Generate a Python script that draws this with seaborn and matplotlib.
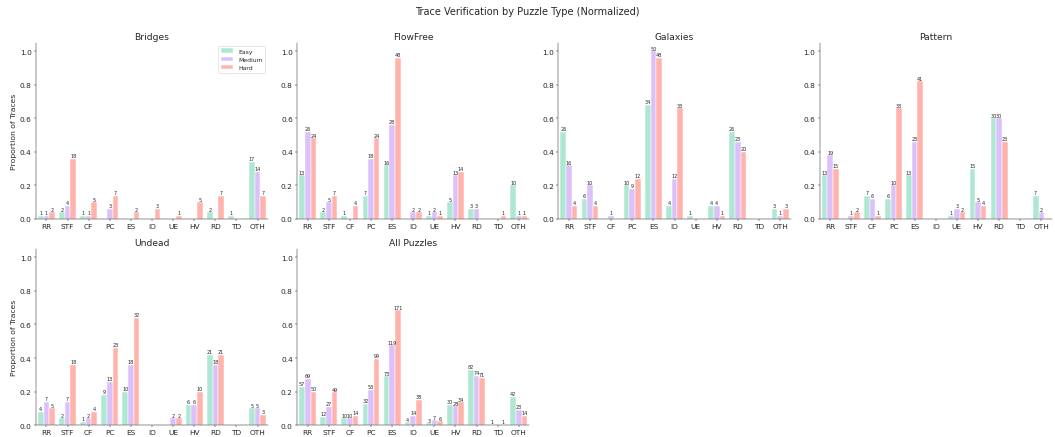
import numpy as np
import matplotlib
matplotlib.use("Agg")
import matplotlib.pyplot as plt
import seaborn as sns
import pandas as pd

# categorie di errore (asse x)
categories = ["RR", "STF", "CF", "PC", "ES", "IO", "UE", "HV", "RD", "TD", "OTH"]
difficulties = ["Easy", "Medium", "Hard"]
colors = ["#aee8d3", "#dcc0f9", "#ffb3ac"]

# conteggi per puzzle e difficolta' (50 tracce per livello)
bridges_easy = [1, 2, 1, 0, 0, 0, 0, 0, 2, 1, 17]
bridges_medium = [1, 4, 1, 3, 0, 0, 0, 0, 0, 0, 14]
bridges_hard = [2, 18, 5, 7, 2, 3, 1, 5, 7, 0, 7]

flowfree_easy = [13, 2, 1, 7, 16, 0, 1, 5, 3, 0, 10]
flowfree_medium = [26, 5, 0, 18, 28, 2, 2, 13, 3, 0, 1]
flowfree_hard = [24, 7, 4, 24, 48, 2, 1, 14, 0, 1, 1]

galaxies_easy = [26, 6, 0, 10, 34, 4, 1, 4, 26, 0, 3]
galaxies_medium = [16, 10, 1, 9, 50, 12, 0, 4, 23, 0, 1]
galaxies_hard = [4, 4, 0, 12, 48, 33, 0, 1, 20, 0, 3]

pattern_easy = [13, 0, 7, 6, 13, 0, 1, 15, 30, 0, 7]
pattern_medium = [19, 1, 6, 10, 23, 0, 3, 5, 30, 0, 2]
pattern_hard = [15, 2, 1, 33, 41, 0, 2, 4, 23, 0, 0]

undead_easy = [4, 2, 1, 9, 10, 0, 0, 6, 21, 0, 5]
undead_medium = [7, 7, 2, 13, 18, 0, 2, 6, 18, 0, 5]
undead_hard = [5, 18, 4, 23, 32, 0, 2, 10, 21, 0, 3]

all_easy = [57, 12, 10, 32, 73, 4, 3, 30, 82, 1, 42]
all_medium = [69, 27, 10, 53, 119, 14, 7, 28, 74, 0, 23]
all_hard = [50, 49, 14, 99, 171, 38, 6, 34, 71, 1, 14]

puzzles = ["Bridges", "FlowFree", "Galaxies", "Pattern", "Undead", "All Puzzles"]
totals = [50, 50, 50, 50, 50, 250]
counts = [
    (bridges_easy, bridges_medium, bridges_hard),
    (flowfree_easy, flowfree_medium, flowfree_hard),
    (galaxies_easy, galaxies_medium, galaxies_hard),
    (pattern_easy, pattern_medium, pattern_hard),
    (undead_easy, undead_medium, undead_hard),
    (all_easy, all_medium, all_hard),
]

sns.set_style("ticks")
plt.rcParams["font.family"] = ["DejaVu Sans"]

# figura grande, salvata a dpi ridotto per ottenere 1055x438
fig, axes = plt.subplots(2, 4, figsize=(24, 9.963))
plt.subplots_adjust(left=0.034, right=0.997, top=0.90, bottom=0.027,
                    wspace=0.125, hspace=0.17)

for i, (name, total, series) in enumerate(zip(puzzles, totals, counts)):
    ax = axes.flat[i]
    rows = []
    for diff, vals in zip(difficulties, series):
        for cat, v in zip(categories, vals):
            rows.append({"Category": cat, "Difficulty": diff,
                         "Count": v, "Proportion": v / total})
    df = pd.DataFrame(rows)

    sns.barplot(data=df, x="Category", y="Proportion", hue="Difficulty",
                order=categories, hue_order=difficulties, palette=colors,
                saturation=1, edgecolor="white", linewidth=0.8, ax=ax)

    # etichette con i conteggi sopra le barre
    for cont, vals in zip(ax.containers, series):
        labels = [str(v) if v > 0 else "" for v in vals]
        ax.bar_label(cont, labels=labels, fontsize=8, padding=1)

    ax.set_title(name, fontsize=15)
    ax.set_ylim(0, 1.05)
    ax.set_yticks([0.0, 0.2, 0.4, 0.6, 0.8, 1.0])
    ax.tick_params(axis="both", labelsize=12)
    ax.set_xlabel("")
    if i % 4 == 0:
        ax.set_ylabel("Proportion of Traces", fontsize=12.5)
    else:
        ax.set_ylabel("")
    sns.despine(ax=ax)

    if i == 0:
        ax.legend(loc="upper right", fontsize=10, frameon=True)
    else:
        ax.get_legend().remove()

axes.flat[6].axis("off")
axes.flat[7].axis("off")

fig.suptitle("Trace Verification by Puzzle Type (Normalized)", fontsize=16, y=0.985)

plt.savefig("out.png", dpi=43.96)
